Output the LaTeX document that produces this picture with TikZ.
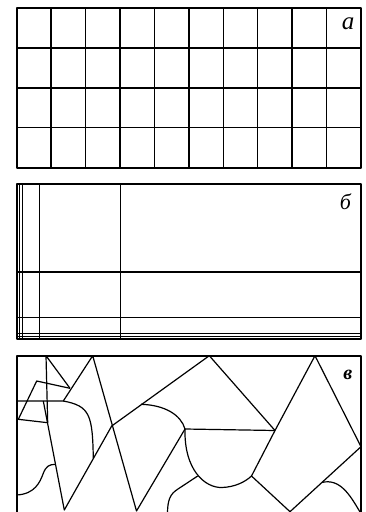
\documentclass[tikz,border=0pt]{standalone}
\usepackage{fontspec}
\setmainfont{Liberation Serif}
\begin{document}
\begin{tikzpicture}[x=1pt,y=-1pt,line join=round,
  frame/.style={line width=1.8pt},
  cell/.style={line width=1.5pt},
  cut/.style={line width=1.2pt},
  tag/.style={anchor=base,inner sep=0pt}]
\useasboundingbox (0,0) rectangle (366,512);
\clip (0,0) rectangle (366,512);
% a
\foreach \i in {1,...,9} \draw[cell] (16.7+\i*34.43,8.3) -- (16.7+\i*34.43,167.7);
\foreach \j in {1,2,3} \draw[cell] (16.7,8.3+\j*39.8) -- (361,8.3+\j*39.8);
\draw[frame] (16.7,8.3) rectangle (361,167.7);
\node[tag] (la) at (348,29.3) {\fontsize{25}{25}\selectfont\itshape a};
% b
\foreach \x in {19.4,22.3,39.7,120.7} \draw[cut] (\x,184) -- (\x,339.3);
\foreach \y in {272,317.3,333.3,336.4} \draw[cut] (16.7,\y) -- (361,\y);
\draw[frame] (16.7,184) rectangle (361,339.3);
\node[tag] (lb) at (345.5,209.3) {\fontsize{22}{22}\selectfont\itshape б};
% c
\draw[cut] (46,355.7) -- (70,388.3) (46,355.7) -- (47.7,422.7);
\draw[cut] (70,388.3) -- (36.7,381) -- (18.3,419.3) -- (47.7,422.7);
\draw[cut] (16.7,401) -- (63.3,401) -- (92.7,355.7) -- (136.5,511) -- (185,429) -- (275,430.5);
\draw[cut] (43.3,401) -- (64.3,510) -- (111.7,426) -- (209.3,355.7) -- (275,430.5) -- (315,355.7) -- (361,446.7) -- (290,511.7) -- (251.5,476) -- (275,430.5);
\draw[cut] (63.3,401) .. controls (90,406) and (92.5,415) .. (93.3,458.3);
\draw[cut] (16.7,495) .. controls (35,494) and (40,482) .. (43,474) .. controls (46,466) and (49,464.5) .. (55.5,464.3);
\draw[cut] (141,404.3) .. controls (165,405) and (181,415) .. (185,429);
\draw[cut] (185,429) .. controls (184,470) and (205,488) .. (222,487.5) .. controls (235,487) and (245,482) .. (251.5,476);
\draw[cut] (197.7,476) -- (178,489) .. controls (170,494) and (167.5,500) .. (167.5,514);
\draw[cut] (321.7,482.5) .. controls (340,478) and (350,495) .. (360,512);
\draw[frame] (16.7,530) -- (16.7,355.7) -- (361,355.7) -- (361,530);
\node[tag] (lc) at (347.8,379.5) {\fontsize{20}{20}\selectfont\bfseries\itshape в};
\end{tikzpicture}
\end{document}
